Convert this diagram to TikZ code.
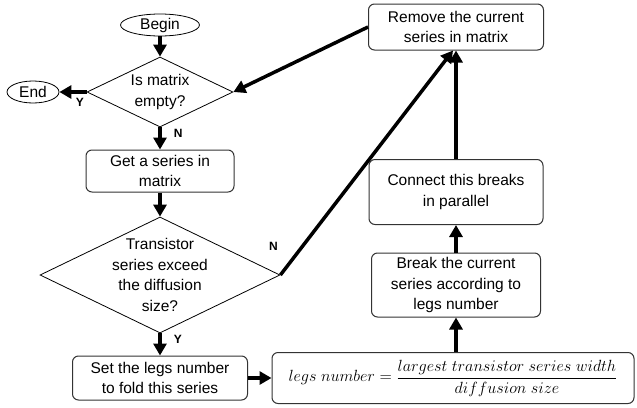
\RequirePackage{fix-cm}
\documentclass[tikz,border=0pt]{standalone}
\usepackage{amsmath}
\usepackage{fontspec}
\setmainfont{Liberation Sans}
\usetikzlibrary{shapes.geometric, arrows.meta, positioning}

\begin{document}
\begin{tikzpicture}[x=1pt, y=1pt, node distance=93pt]
        % styles %
        \tikzstyle{txt} = [font=\fontsize{15.5}{20.5}\selectfont, align=center, inner sep=0pt];
        \tikzstyle{term} = [txt, ellipse, draw, line width=0.8pt, minimum width=79pt, minimum height=22pt];
        \tikzstyle{decide} = [txt, diamond, draw, line width=0.8pt, aspect=2];
        \tikzstyle{proc} = [txt, rectangle, rounded corners=6pt, draw=black!80, line width=1pt];
        \tikzstyle{flow} = [-{Triangle[length=12pt, width=13pt]}, line width=3.5pt];
        \tikzstyle{yn} = [font=\bfseries\fontsize{12}{14}\selectfont, inner sep=1pt];

        \useasboundingbox (0,0) rectangle (637,-407);

        % nodes %
        \node [term] (begin) at (160,-25) {Begin};
        \node [decide, minimum width=146pt, minimum height=70pt] (dec1) [below of = begin, yshift=26pt] {Is matrix\\empty?};
        \node [term, minimum width=52pt] (end) [left of = dec1, xshift=-34pt] {End};
        \node [proc, minimum width=148pt, minimum height=42pt] (getser) [below of = dec1, yshift=14pt] {Get a series in\\matrix};
        \node [decide, inner ysep=-8pt, minimum width=240pt, minimum height=116pt] (dec2) [below of = getser, yshift=-11pt] {Transistor\\series exceed\\the diffusion\\size?};
        \node [proc, minimum width=175pt, minimum height=44pt] (setleg) [below of = dec2, yshift=-10pt] {Set the legs number\\to fold this series};

        \node [proc, font=\fontsize{16.2}{20}\selectfont, minimum width=362pt, minimum height=51pt] (formula) [right of = setleg, xshift=200pt] {$legs\ number = \dfrac{largest\ transistor\ series\ width}{diffusion\ size}$};
        \node [proc, minimum width=169pt, minimum height=64pt] (brk) [above of = formula, xshift=3pt] {Break the current\\series according to\\legs number};
        \node [proc, minimum width=174pt, minimum height=65pt] (conn) [above of = brk] {Connect this breaks\\in parallel};
        \node [proc, minimum width=175pt, minimum height=46pt] (remove) [above of = conn, yshift=72pt] {Remove the current\\series in matrix};

        % edges %
        \path[flow] (begin) edge (dec1)
                    (dec1) edge node [yn, near start, below, yshift=-3pt] {Y} (end)
                    (dec1) edge node [yn, near start, right, xshift=11pt] {N} (getser)
                    (getser) edge (dec2)
                    (dec2) edge node [yn, near start, right, xshift=11pt] {Y} (setleg)
                    (dec2.east) edge node [yn, pos=0, xshift=-7pt, yshift=29pt] {N} ([xshift=-3pt]remove.south)
                    (setleg) edge (formula)
                    (brk |- formula.north) edge (brk)
                    (brk) edge (conn)
                    (conn) edge (remove)
                    (remove.west) edge (dec1.east);
\end{tikzpicture}
\end{document}
